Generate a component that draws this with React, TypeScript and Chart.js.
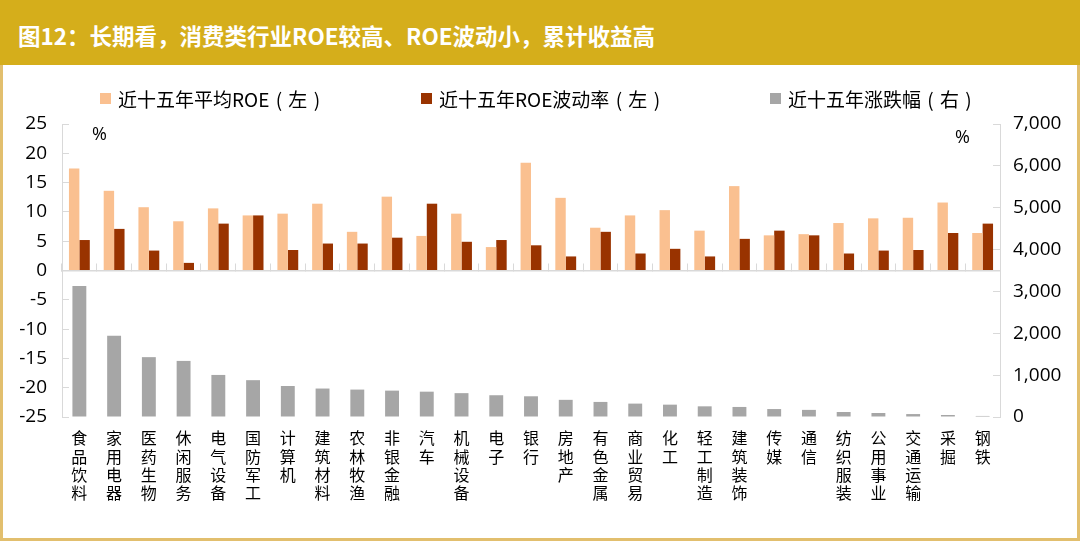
import React, { useEffect, useRef } from "react";
import { Chart, registerables } from "chart.js";

Chart.register(...registerables);

const categories = ["食品饮料","家用电器","医药生物","休闲服务","电气设备","国防军工","计算机","建筑材料","农林牧渔","非银金融","汽车","机械设备","电子","银行","房地产","有色金属","商业贸易","化工","轻工制造","建筑装饰","传媒","通信","纺织服装","公用事业","交通运输","采掘","钢铁"];

const roeAvg = [17.4,13.6,10.8,8.4,10.6,9.4,9.7,11.4,6.6,12.6,5.9,9.7,4.0,18.4,12.4,7.3,9.4,10.3,6.8,14.4,6.0,6.2,8.1,8.9,9.0,11.6,6.4];
const roeVol = [5.2,7.1,3.4,1.3,8.0,9.4,3.5,4.6,4.6,5.6,11.4,4.9,5.2,4.3,2.4,6.6,2.9,3.7,2.4,5.4,6.8,6.0,2.9,3.4,3.5,6.4,8.0];
const returns15y = [3130,1940,1430,1340,1005,880,740,680,655,630,605,570,520,495,410,360,320,295,255,240,190,170,120,95,70,48,25];

const leftTicks = { min: -25, max: 25, step: 5 };
const rightTicks = { min: 0, max: 7000, step: 1000 };

const seriesNames = ["近十五年平均ROE（左）", "近十五年ROE波动率（左）", "近十五年涨跌幅（右）"];
const seriesColors = ["#FAC090", "#993300", "#A6A6A6"];
const titleText = "图12：长期看，消费类行业ROE较高、ROE波动小，累计收益高";

const CJK = '"Noto Sans CJK SC", "Noto Sans", sans-serif';
const NUM = '"Open Sans", "Noto Sans", sans-serif';

function LegendText({ text }: { text: string }) {
  const parts: React.ReactNode[] = [];
  let buf = "";
  let k = 0;
  for (const ch of text) {
    if (ch === "（" || ch === "）") {
      if (buf) parts.push(<span key={k++}>{buf}</span>);
      buf = "";
      parts.push(
        <span key={k++} style={{ display: "inline-block", width: 19, textAlign: "center" }}>
          {ch === "（" ? "(" : ")"}
        </span>
      );
    } else {
      buf += ch;
    }
  }
  if (buf) parts.push(<span key={k++}>{buf}</span>);
  return <span>{parts}</span>;
}

export default function App() {
  const canvasRef = useRef<HTMLCanvasElement | null>(null);

  useEffect(() => {
    document.body.style.margin = "0";
    const canvas = canvasRef.current;
    if (!canvas) return;
    const axisGray = "#D9D9D9";
    const chart = new Chart(canvas, {
      type: "bar",
      data: {
        labels: categories.map((c) => c.split("")),
        datasets: [
          {
            label: seriesNames[0],
            data: roeAvg,
            backgroundColor: seriesColors[0],
            xAxisID: "x",
            yAxisID: "y",
            barPercentage: 1,
            categoryPercentage: 0.6,
          },
          {
            label: seriesNames[1],
            data: roeVol,
            backgroundColor: seriesColors[1],
            xAxisID: "x",
            yAxisID: "y",
            barPercentage: 1,
            categoryPercentage: 0.6,
          },
          {
            label: seriesNames[2],
            data: returns15y,
            backgroundColor: seriesColors[2],
            xAxisID: "x",
            yAxisID: "y2",
            grouped: false,
            barPercentage: 1,
            categoryPercentage: 0.4,
          },
        ],
      },
      options: {
        animation: false,
        responsive: false,
        maintainAspectRatio: false,
        layout: { padding: { top: 124, left: 0, right: 0, bottom: 0 } },
        plugins: {
          legend: { display: false },
          tooltip: { enabled: false },
        },
        scales: {
          x: {
            type: "category",
            position: "bottom",
            offset: true,
            grid: { display: false, drawTicks: false },
            border: { display: false },
            ticks: {
              autoSkip: false,
              maxRotation: 0,
              minRotation: 0,
              padding: 12,
              color: "#000",
              font: { family: CJK, size: 16, lineHeight: 1.15 },
            },
            afterFit: (s: any) => {
              s.height = 124;
            },
          },
          x2: {
            type: "category",
            position: { y: 0 } as any,
            offset: true,
            ticks: { display: false },
            grid: {
              offset: true,
              drawOnChartArea: false,
              drawTicks: true,
              tickLength: -8,
              color: axisGray,
            },
            border: { display: true, color: axisGray, width: 1.5 },
          },
          y: {
            type: "linear",
            position: "left",
            min: leftTicks.min,
            max: leftTicks.max,
            ticks: {
              stepSize: leftTicks.step,
              padding: 22,
              color: "#000",
              font: { family: NUM, size: 19 },
            },
            grid: {
              drawOnChartArea: false,
              drawTicks: true,
              tickLength: -7,
              color: axisGray,
            },
            border: { display: true, color: axisGray },
            afterFit: (s: any) => {
              s.width = 62;
            },
          },
          y2: {
            type: "linear",
            position: "right",
            min: rightTicks.min,
            max: rightTicks.max,
            ticks: {
              stepSize: rightTicks.step,
              padding: 20,
              color: "#000",
              font: { family: NUM, size: 19 },
              callback: (v: any) => Number(v).toLocaleString("en-US"),
            },
            grid: {
              drawOnChartArea: false,
              drawTicks: true,
              tickLength: -7,
              color: axisGray,
            },
            border: { display: true, color: axisGray },
            afterFit: (s: any) => {
              s.width = 80;
            },
          },
        },
      },
    });
    return () => chart.destroy();
  }, []);

  const legendPos = [100, 421, 770];

  return (
    <div style={{ position: "absolute", left: 0, top: 0, width: 1080, height: 541, background: "#fff", overflow: "hidden" }}>
      <canvas ref={canvasRef} width={1080} height={541} style={{ position: "absolute", left: 0, top: 0, width: 1080, height: 541 }} />
      <div style={{ position: "absolute", left: 0, top: 0, width: 1080, height: 541, boxSizing: "border-box", border: "3px solid #E2BF6E", pointerEvents: "none" }} />
      <div
        style={{
          position: "absolute",
          left: 0,
          top: 0,
          width: 1080,
          height: 65,
          background: "#D5AE1B",
          color: "#fff",
          fontFamily: CJK,
          fontWeight: 700,
          fontSize: 22.5,
          lineHeight: "70px",
          paddingLeft: 18,
          boxSizing: "border-box",
          whiteSpace: "nowrap",
        }}
      >
        {titleText}
      </div>
      {seriesNames.map((name, i) => (
        <div
          key={name}
          style={{
            position: "absolute",
            left: legendPos[i],
            top: 85,
            height: 26,
            display: "flex",
            alignItems: "center",
            fontFamily: CJK,
            fontSize: 19,
            color: "#000",
            whiteSpace: "nowrap",
          }}
        >
          <span style={{ display: "inline-block", width: 11, height: 11, background: seriesColors[i], marginRight: 7 }} />
          <LegendText text={name} />
        </div>
      ))}
      <div style={{ position: "absolute", left: 92, top: 121, fontFamily: NUM, fontSize: 18, color: "#000" }}>%</div>
      <div style={{ position: "absolute", left: 955, top: 124, fontFamily: NUM, fontSize: 18, color: "#000" }}>%</div>
    </div>
  );
}
